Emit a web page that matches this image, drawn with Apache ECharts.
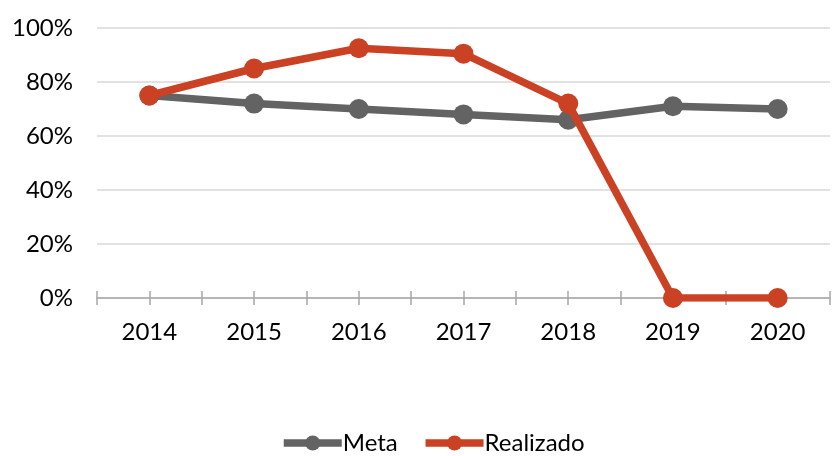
<!DOCTYPE html>
<html>
<head>
<meta charset="utf-8">
<script src="https://cdn.jsdelivr.net/npm/echarts@6/dist/echarts.min.js"></script>
<style>
	html, body { margin: 0; padding: 0; background: #fff; }
	#chart { width: 832px; height: 456px; }
</style>
</head>
<body>
<div id="chart"></div>
<script>
const years = ["2014", "2015", "2016", "2017", "2018", "2019", "2020"];
const meta = [75, 72, 70, 68, 66, 71, 70];
const realizado = [75, 85, 92.5, 90.5, 72, 0, 0];
const yTicks = [0, 20, 40, 60, 80, 100];

const font = "Lato, 'Open Sans', sans-serif";
const axisColor = "#a6a6a6";

// extra hidden axes only to draw the crossing tick marks
function tickAxis(inside, center) {
	return {
		type: "category",
		data: years,
		position: "bottom",
		boundaryGap: true,
		axisLine: { show: false },
		axisLabel: { show: false },
		axisTick: {
			show: true,
			inside: inside,
			alignWithLabel: center,
			length: 7,
			lineStyle: { color: axisColor, width: 1.5 },
		},
	};
}

const chart = echarts.init(document.getElementById("chart"));
chart.setOption({
	animation: false,
	grid: { left: 97, right: 2, top: 28, bottom: 158 },
	legend: {
		top: 431,
		left: 280,
		padding: 0,
		itemWidth: 58,
		itemHeight: 19,
		itemGap: 24,
		lineStyle: { width: 7.5 },
		textStyle: { fontFamily: font, fontSize: 24, color: "#000", padding: [0, 0, 0, -4] },
		data: ["Meta", "Realizado"],
	},
	xAxis: [
		{
			type: "category",
			data: years,
			boundaryGap: true,
			axisLine: { lineStyle: { color: axisColor, width: 1.5 } },
			axisTick: { show: false },
			axisLabel: { fontFamily: font, fontSize: 24, color: "#000", margin: 22 },
		},
		tickAxis(false, false),
		tickAxis(true, false),
		tickAxis(false, true),
		tickAxis(true, true),
	],
	yAxis: {
		type: "value",
		min: 0,
		max: 100,
		interval: 20,
		axisLine: { show: false },
		axisTick: { show: false },
		splitLine: { lineStyle: { color: "#d9d9d9", width: 1.5 } },
		axisLabel: {
			fontFamily: font,
			fontSize: 24,
			color: "#000",
			margin: 24,
			formatter: (v) => (yTicks.includes(v) ? v + "%" : ""),
		},
	},
	series: [
		{
			name: "Meta",
			type: "line",
			data: meta,
			symbol: "circle",
			symbolSize: 20,
			lineStyle: { color: "#636363", width: 7.5 },
			itemStyle: { color: "#636363" },
			z: 2,
		},
		{
			name: "Realizado",
			type: "line",
			data: realizado,
			symbol: "circle",
			symbolSize: 20,
			lineStyle: { color: "#cb4124", width: 7.5 },
			itemStyle: { color: "#cb4124" },
			z: 3,
		},
	],
});
</script>
</body>
</html>
